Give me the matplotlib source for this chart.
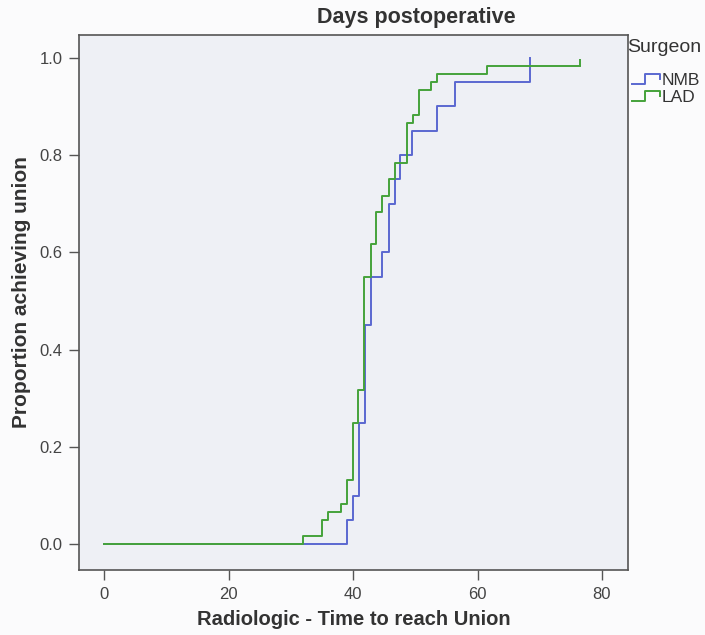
#!/usr/bin/env python3

import matplotlib
matplotlib.use('Agg')
import matplotlib.pyplot as plt
from matplotlib.legend_handler import HandlerBase
from matplotlib.lines import Line2D

plt.rcParams['font.family'] = ['Liberation Sans', 'DejaVu Sans']

# Kaplan-Meier style cumulative union curves
nmb_days = [0, 39.0, 40.0, 41.0, 41.9, 42.8, 44.7, 45.7, 46.7, 47.6, 49.5, 53.5, 56.4, 68.5]
nmb_prop = [0, 0.05, 0.10, 0.25, 0.45, 0.55, 0.60, 0.70, 0.75, 0.80, 0.85, 0.90, 0.95, 1.00]

lad_days = [0, 32.0, 35.0, 36.0, 38.1, 39.0, 40.0, 40.8, 41.8, 42.8, 43.7, 44.7, 45.7,
            46.7, 48.7, 49.6, 50.6, 52.5, 53.4, 61.6, 76.5]
lad_prop = [0, 0.017, 0.05, 0.067, 0.083, 0.133, 0.25, 0.317, 0.55, 0.617, 0.683, 0.717,
            0.75, 0.783, 0.867, 0.883, 0.933, 0.95, 0.967, 0.983, 0.983]
lad_censor_day = 76.5

x_ticks = [0, 20, 40, 60, 80]
y_ticks = [0.0, 0.2, 0.4, 0.6, 0.8, 1.0]

blue = '#5a68d0'
green = '#45a23a'
frame = '#555555'
txt = '#333333'


class StepHandler(HandlerBase):
    # little step glyph like the SPSS legend
    def create_artists(self, legend, orig_handle, xdescent, ydescent,
                       width, height, fontsize, trans):
        x0, y0 = -xdescent, -ydescent
        xs = [x0, x0 + 0.45 * width, x0 + 0.45 * width, x0 + width, x0 + width]
        ys = [y0 + 0.1 * height, y0 + 0.1 * height, y0 + 0.9 * height,
              y0 + 0.9 * height, y0 + 0.5 * height]
        ln = Line2D(xs, ys, color=orig_handle.get_color(),
                    linewidth=orig_handle.get_linewidth(), transform=trans)
        return [ln]


fig = plt.figure(figsize=(7.05, 6.35), dpi=100)
fig.patch.set_facecolor('#fbfbfc')
ax = fig.add_axes([79 / 705, 1 - 570 / 635, (628 - 79) / 705, (570 - 35) / 635])
ax.set_facecolor('#eef0f5')

l1, = ax.step(nmb_days, nmb_prop, where='post', color=blue, linewidth=1.4, label='NMB')
l2, = ax.step(lad_days, lad_prop, where='post', color=green, linewidth=1.4, label='LAD')
ax.vlines(lad_censor_day, lad_prop[-1], lad_prop[-1] + 0.015, color=green, linewidth=1.4)

ax.set_xlim(-4.1, 84.2)
ax.set_ylim(-0.053, 1.047)
ax.set_xticks(x_ticks)
ax.set_yticks(y_ticks)
ax.set_yticklabels(['%.1f' % v for v in y_ticks])

for s in ax.spines.values():
    s.set_color(frame)
    s.set_linewidth(1.2)
ax.tick_params(direction='out', length=7, width=1, color=frame,
               labelcolor='#444444', labelsize=12, pad=5)

ax.set_xlabel('Radiologic - Time to reach Union', fontsize=14.5, fontweight='bold',
              color=txt, labelpad=6)
ax.set_ylabel('Proportion achieving union', fontsize=15, fontweight='bold',
              color=txt, va='center')
ax.yaxis.set_label_coords(-0.104, 0.52)
fig.text(416 / 705, 1 - 17 / 635, 'Days postoperative', fontsize=15.5, fontweight='bold',
         color=txt, ha='center', va='center')

fig.text(627 / 705, 1 - 47 / 635, 'Surgeon', fontsize=14, color=txt,
         ha='left', va='center')
leg = fig.legend(handles=[l1, l2], labels=['NMB', 'LAD'],
                 loc='upper left', bbox_to_anchor=(632 / 705, 1 - 73 / 635),
                 frameon=False, fontsize=12.5,
                 handler_map={Line2D: StepHandler()}, handlelength=1.6,
                 handleheight=0.7, handletextpad=0.1, labelspacing=0.1,
                 borderpad=0, borderaxespad=0)
for t in leg.get_texts():
    t.set_color(txt)

plt.savefig('out.png', dpi=100, facecolor=fig.get_facecolor())
